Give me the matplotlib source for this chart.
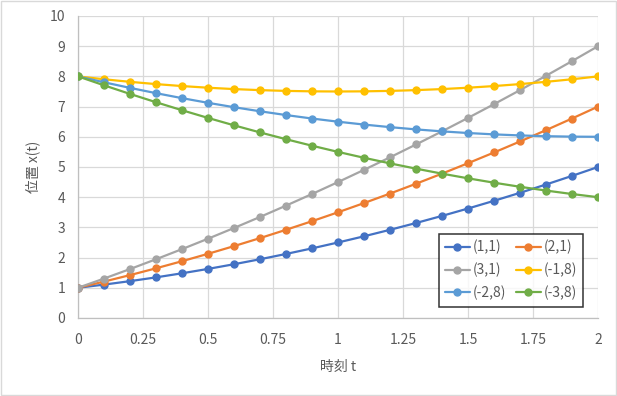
import matplotlib
matplotlib.use("Agg")
import matplotlib.pyplot as plt
from matplotlib.patches import Rectangle

plt.rcParams['font.family'] = ['Noto Sans CJK JP', 'DejaVu Sans']

t = [0, 0.1, 0.2, 0.3, 0.4, 0.5, 0.6, 0.7, 0.8, 0.9, 1.0,
     1.1, 1.2, 1.3, 1.4, 1.5, 1.6, 1.7, 1.8, 1.9, 2.0]

labels = ['(1,1)', '(2,1)', '(3,1)', '(-1,8)', '(-2,8)', '(-3,8)']

x_1_1 = [1, 1.105, 1.22, 1.345, 1.48, 1.625, 1.78, 1.945, 2.12, 2.305, 2.5,
         2.705, 2.92, 3.145, 3.38, 3.625, 3.88, 4.145, 4.42, 4.705, 5]
x_2_1 = [1, 1.205, 1.42, 1.645, 1.88, 2.125, 2.38, 2.645, 2.92, 3.205, 3.5,
         3.805, 4.12, 4.445, 4.78, 5.125, 5.48, 5.845, 6.22, 6.605, 7]
x_3_1 = [1, 1.305, 1.62, 1.945, 2.28, 2.625, 2.98, 3.345, 3.72, 4.105, 4.5,
         4.905, 5.32, 5.745, 6.18, 6.625, 7.08, 7.545, 8.02, 8.505, 9]
x_m1_8 = [8, 7.905, 7.82, 7.745, 7.68, 7.625, 7.58, 7.545, 7.52, 7.505, 7.5,
          7.505, 7.52, 7.545, 7.58, 7.625, 7.68, 7.745, 7.82, 7.905, 8]
x_m2_8 = [8, 7.805, 7.62, 7.445, 7.28, 7.125, 6.98, 6.845, 6.72, 6.605, 6.5,
          6.405, 6.32, 6.245, 6.18, 6.125, 6.08, 6.045, 6.02, 6.005, 6]
x_m3_8 = [8, 7.705, 7.42, 7.145, 6.88, 6.625, 6.38, 6.145, 5.92, 5.705, 5.5,
          5.305, 5.12, 4.945, 4.78, 4.625, 4.48, 4.345, 4.22, 4.105, 4]

series = [x_1_1, x_2_1, x_3_1, x_m1_8, x_m2_8, x_m3_8]
colors = ['#4472C4', '#ED7D31', '#A5A5A5', '#FFC000', '#5B9BD5', '#70AD47']

xticks = [0, 0.25, 0.5, 0.75, 1, 1.25, 1.5, 1.75, 2]
xticklabels = ['0', '0.25', '0.5', '0.75', '1', '1.25', '1.5', '1.75', '2']

txt = '#595959'

fig = plt.figure(figsize=(6.17, 3.96), dpi=100)
ax = fig.add_axes([0.1264, 0.197, 0.8428, 0.7626])

lines = []
for ys, c, lab in zip(series, colors, labels):
    ln, = ax.plot(t, ys, color=c, lw=1.6, marker='o', markersize=5, label=lab,
                  solid_capstyle='round', zorder=3)
    lines.append(ln)

ax.set_xlim(0, 2)
ax.set_ylim(0, 10)
ax.set_xticks(xticks)
ax.set_xticklabels(xticklabels)
ax.set_yticks(range(0, 11))
ax.grid(True, color='#D9D9D9', lw=0.9)
ax.set_axisbelow(True)
for s in ['top', 'right']:
    ax.spines[s].set_visible(False)
for s in ['left', 'bottom']:
    ax.spines[s].set_color('#BFBFBF')
    ax.spines[s].set_linewidth(0.9)
ax.tick_params(length=0, colors=txt, labelsize=10)
ax.tick_params(axis='y', pad=9)
ax.tick_params(axis='x', pad=11)

ax.set_xlabel('時刻 t', color=txt, fontsize=10, labelpad=9)
ax.set_ylabel('位置 x(t)', color=txt, fontsize=10, labelpad=7)

# row-major order like the original legend
order = [0, 2, 4, 1, 3, 5]
leg = ax.legend([lines[i] for i in order], [labels[i] for i in order],
                ncol=2, loc='lower right', bbox_to_anchor=(0.985, 0.015),
                fontsize=10, frameon=True, fancybox=False, handlelength=1.8,
                columnspacing=0.7, handletextpad=0.2, borderpad=0.45,
                labelspacing=0.6)
leg.get_frame().set_edgecolor('black')
leg.get_frame().set_linewidth(1.1)
for tx in leg.get_texts():
    tx.set_color(txt)

fig.patches.append(Rectangle((0.001, 0.002), 0.997, 0.995, transform=fig.transFigure,
                             fill=False, edgecolor='#D9D9D9', lw=1))

fig.savefig('out.png', dpi=100)
